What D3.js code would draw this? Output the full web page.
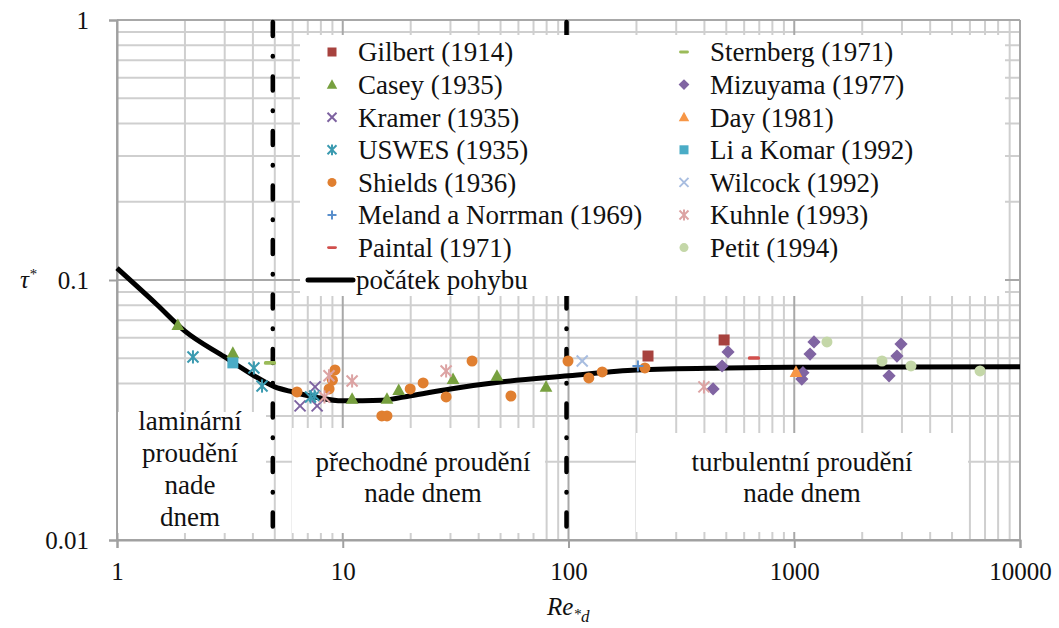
<!DOCTYPE html>
<html>
<head>
<meta charset="utf-8">
<script src="https://cdnjs.cloudflare.com/ajax/libs/d3/7.8.5/d3.min.js"></script>
<style>
  body { margin: 0; background: #fff; }
</style>
</head>
<body>
<svg width="1059" height="628"></svg>
<script>
// --- data: [Re*, tau*] ---
var gilbert   = [[225, 0.051], [489, 0.0588]];
var casey     = [[1.86, 0.0671], [3.26, 0.0524], [11.0, 0.0349], [15.7, 0.0349], [17.7, 0.0377], [30.8, 0.0416], [48.2, 0.0428], [79.5, 0.0388]];
var kramer    = [[6.47, 0.0328], [7.54, 0.0388], [7.7, 0.0328]];
var uswes     = [[2.17, 0.0506], [4.04, 0.0459], [4.39, 0.0391], [7.2, 0.0355], [7.5, 0.0358]];
var shields   = [[6.27, 0.0371], [8.7, 0.0381], [9.0, 0.0412], [9.24, 0.0451], [14.9, 0.030], [15.7, 0.030], [19.9, 0.0381], [22.7, 0.0402],
                 [28.7, 0.0355], [37.4, 0.0488], [55.6, 0.0358], [99.5, 0.0488], [123, 0.042], [141, 0.0443], [218, 0.0459]];
var meland    = [[203, 0.0467]];
var paintal   = [[663, 0.0501]];
var sternberg = [[4.76, 0.048]];
var mizuyama  = [[437, 0.0381], [479, 0.0467], [509, 0.0529], [1080, 0.0416], [1093, 0.044], [1175, 0.0519], [1223, 0.0578],
                 [2630, 0.0428], [2851, 0.051], [2971, 0.0567]];
var day       = [[1018, 0.0443]];
var liKomar   = [[3.26, 0.048]];
var wilcock   = [[115, 0.0488]];
var kuhnle    = [[8.3, 0.0355], [8.69, 0.0428], [11.0, 0.0409], [28.7, 0.0447], [398, 0.0388]];
var petit     = [[1396, 0.0578], [2447, 0.0488], [3289, 0.0467], [6653, 0.0447]];

// threshold of motion curve
var curveRe  = [1, 1.5, 2, 3, 4, 5, 6, 7.5, 10, 15, 20, 30, 50, 100, 200, 500, 1000, 10000];
var curveTau = [0.111, 0.0805, 0.0636, 0.0506, 0.0431, 0.0388, 0.0371, 0.0355, 0.0343, 0.0345, 0.0359, 0.0381, 0.0405, 0.0428, 0.0451, 0.0459, 0.0462, 0.0464];

var xTicks = [1, 10, 100, 1000, 10000];
var yTicks = [0.01, 0.1, 1];
var regimeBounds = [5, 100]; // laminar / transition / turbulent limits

var FONT = "Liberation Serif";

var svg = d3.select("svg");

var x = d3.scaleLog().domain([1, 10000]).range([117, 1020]);
var y = d3.scaleLog().domain([0.01, 1]).range([540, 20]);

// series table: name, data, marker kind, colour
var series = [
  { name: "Gilbert (1914)",            data: gilbert,   kind: "square",   color: "#a7423e" },
  { name: "Casey (1935)",              data: casey,     kind: "triangle", color: "#77a03f" },
  { name: "Kramer (1935)",             data: kramer,    kind: "times",    color: "#7d62a0" },
  { name: "USWES (1935)",              data: uswes,     kind: "asterisk", color: "#3a9ab0" },
  { name: "Shields (1936)",            data: shields,   kind: "circle",   color: "#e07f30" },
  { name: "Meland a Norrman (1969)",   data: meland,    kind: "plus",     color: "#5a8fcc" },
  { name: "Paintal (1971)",            data: paintal,   kind: "dash",     color: "#d14f4c" },
  { name: "Sternberg (1971)",          data: sternberg, kind: "dash",     color: "#9bbb59" },
  { name: "Mizuyama (1977)",           data: mizuyama,  kind: "diamond",  color: "#8064a2" },
  { name: "Day (1981)",                data: day,       kind: "triangle", color: "#f79646" },
  { name: "Li a Komar (1992)",         data: liKomar,   kind: "square",   color: "#4aacc6" },
  { name: "Wilcock (1992)",            data: wilcock,   kind: "times",    color: "#a8bde0" },
  { name: "Kuhnle (1993)",             data: kuhnle,    kind: "asterisk", color: "#dca3a3" },
  { name: "Petit (1994)",              data: petit,     kind: "circle",   color: "#c4d7a8" }
];

// helper: every text gets its font set directly
function label(parent, size) {
  return parent.append("text").attr("font-family", FONT).attr("font-size", size).attr("fill", "#111");
}

// grid lines (minor first, decades darker)
var grid = svg.append("g");
function minorValues(lo, hi) {
  var v = [];
  for (var d = lo; d < hi; d *= 10) for (var k = 2; k <= 9; k++) v.push(d * k);
  return v;
}
grid.selectAll(".vx").data(minorValues(1, 10000)).enter().append("line")
    .attr("x1", function(d) { return x(d); }).attr("x2", function(d) { return x(d); })
    .attr("y1", 20).attr("y2", 540)
    .attr("stroke", "#cfcfcf").attr("stroke-width", 2);
grid.selectAll(".hy").data(minorValues(0.01, 1)).enter().append("line")
    .attr("y1", function(d) { return y(d); }).attr("y2", function(d) { return y(d); })
    .attr("x1", 117).attr("x2", 1020)
    .attr("stroke", "#cfcfcf").attr("stroke-width", 2);
grid.selectAll(".vmaj").data(xTicks).enter().append("line")
    .attr("x1", function(d) { return x(d); }).attr("x2", function(d) { return x(d); })
    .attr("y1", 20).attr("y2", 540)
    .attr("stroke", "#a8a8a8").attr("stroke-width", 2);
grid.selectAll(".hmaj").data(yTicks).enter().append("line")
    .attr("y1", function(d) { return y(d); }).attr("y2", function(d) { return y(d); })
    .attr("x1", 117).attr("x2", 1020)
    .attr("stroke", "#a8a8a8").attr("stroke-width", 2);

// axes
var xAxis = svg.append("g").attr("transform", "translate(0,540)")
    .call(d3.axisBottom(x).tickValues(xTicks).tickSize(8).tickPadding(14).tickFormat(d3.format("d")));
var yAxis = svg.append("g").attr("transform", "translate(117,0)")
    .call(d3.axisLeft(y).tickValues(yTicks).tickSize(8).tickPadding(20).tickFormat(function(d) { return String(d); }));
[xAxis, yAxis].forEach(function(a) {
  a.attr("font-family", FONT).attr("font-size", 25);
  a.select(".domain").attr("stroke", "#a0a0a0").attr("stroke-width", 2);
  a.selectAll(".tick line").attr("stroke", "#a0a0a0").attr("stroke-width", 2);
  a.selectAll(".tick text").attr("font-family", FONT).attr("font-size", 25).attr("fill", "#111");
});

// regime limits, dash-dot
svg.selectAll(".limit").data(regimeBounds).enter().append("line")
    .attr("x1", function(d) { return x(d) - 2; }).attr("x2", function(d) { return x(d) - 2; })
    .attr("y1", 22).attr("y2", 540)
    .attr("stroke", "#000").attr("stroke-width", 4.5)
    .attr("stroke-linecap", "round")
    .attr("stroke-dasharray", "14,20,0.5,20");

// white text boxes for the regime labels
var boxes = [
  { x0: 118, x1: 266, y0: 412, y1: 533, cx: 190, lines: ["laminární", "proudění", "nade", "dnem"], ly: [421, 453, 485, 517] },
  { x0: 292, x1: 545, y0: 428, y1: 533, cx: 423, lines: ["přechodné proudění", "nade dnem"], ly: [462, 493] },
  { x0: 636, x1: 968, y0: 433, y1: 532, cx: 802, lines: ["turbulentní proudění", "nade dnem"], ly: [462, 493] }
];
boxes.forEach(function(b) {
  svg.append("rect").attr("x", b.x0).attr("y", b.y0).attr("width", b.x1 - b.x0).attr("height", b.y1 - b.y0).attr("fill", "#fff");
  b.lines.forEach(function(t, i) {
    label(svg, 27).attr("x", b.cx).attr("y", b.ly[i]).attr("dy", "0.35em")
        .attr("text-anchor", "middle").text(t);
  });
});

// legend background
svg.append("rect").attr("x", 300).attr("y", 35).attr("width", 705).attr("height", 261).attr("fill", "#fff");

// curve of incipient motion
var curvePts = curveRe.map(function(r, i) { return [r, curveTau[i]]; });
svg.append("path")
    .datum(curvePts)
    .attr("fill", "none").attr("stroke", "#000").attr("stroke-width", 5)
    .attr("d", d3.line().x(function(d) { return x(d[0]); }).y(function(d) { return y(d[1]); }).curve(d3.curveMonotoneX));

// marker drawing
function marker(g, kind, color, s) {
  if (kind === "circle") {
    g.append("circle").attr("r", s / 2).attr("fill", color);
  } else if (kind === "square") {
    g.append("rect").attr("x", -s / 2).attr("y", -s / 2).attr("width", s).attr("height", s).attr("fill", color);
  } else if (kind === "triangle") {
    g.append("path").attr("d", "M0," + (-s * 0.6) + "L" + (s * 0.58) + "," + (s * 0.45) + "L" + (-s * 0.58) + "," + (s * 0.45) + "Z").attr("fill", color);
  } else if (kind === "diamond") {
    g.append("path").attr("d", "M0," + (-s * 0.6) + "L" + (s * 0.6) + ",0L0," + (s * 0.6) + "L" + (-s * 0.6) + ",0Z").attr("fill", color);
  } else if (kind === "dash") {
    g.append("rect").attr("x", -s * 0.55).attr("y", -s * 0.16).attr("width", s * 1.1).attr("height", s * 0.32).attr("rx", 1.5).attr("fill", color);
  } else {
    var h = s / 2, p = [];
    if (kind === "times" || kind === "asterisk") p.push([-h, -h, h, h], [-h, h, h, -h]);
    if (kind === "plus") p.push([-h, 0, h, 0], [0, -h, 0, h]);
    if (kind === "asterisk") p.push([0, -h * 1.2, 0, h * 1.2]);
    p.forEach(function(l) {
      g.append("line").attr("x1", l[0]).attr("y1", l[1]).attr("x2", l[2]).attr("y2", l[3])
          .attr("stroke", color).attr("stroke-width", 2);
    });
  }
}

// data points
series.forEach(function(s) {
  svg.append("g").selectAll("g").data(s.data).enter().append("g")
      .attr("transform", function(d) { return "translate(" + x(d[0]) + "," + y(d[1]) + ")"; })
      .each(function() { marker(d3.select(this), s.kind, s.color, 11); });
});

// legend entries, two columns
var leg = svg.append("g");
series.forEach(function(s, i) {
  var col = i < 7 ? 0 : 1, row = i % 7;
  var g = leg.append("g").attr("transform", "translate(" + (col ? 684 : 332) + "," + (52 + row * 32.6) + ")");
  marker(g, s.kind, s.color, 9);
  label(g, 27).attr("x", 26).attr("dy", "0.35em").text(s.name);
});
leg.append("line").attr("x1", 308).attr("x2", 353).attr("y1", 280).attr("y2", 280)
    .attr("stroke", "#000").attr("stroke-width", 5).attr("stroke-linecap", "round");
label(leg, 27).attr("x", 356).attr("y", 280).attr("dy", "0.35em").text("počátek pohybu");

// axis titles
var yt = label(svg, 25).attr("x", 20).attr("y", 288).attr("font-style", "italic");
yt.append("tspan").text("τ");
yt.append("tspan").attr("dy", -9).attr("font-size", 15).text("*");

var xt = label(svg, 25).attr("x", 547).attr("y", 615).attr("font-style", "italic");
xt.append("tspan").text("Re");
xt.append("tspan").attr("dy", 4).attr("font-size", 15).text("*");
xt.append("tspan").attr("dy", 3).attr("font-size", 17).text("d");
</script>
</body>
</html>
